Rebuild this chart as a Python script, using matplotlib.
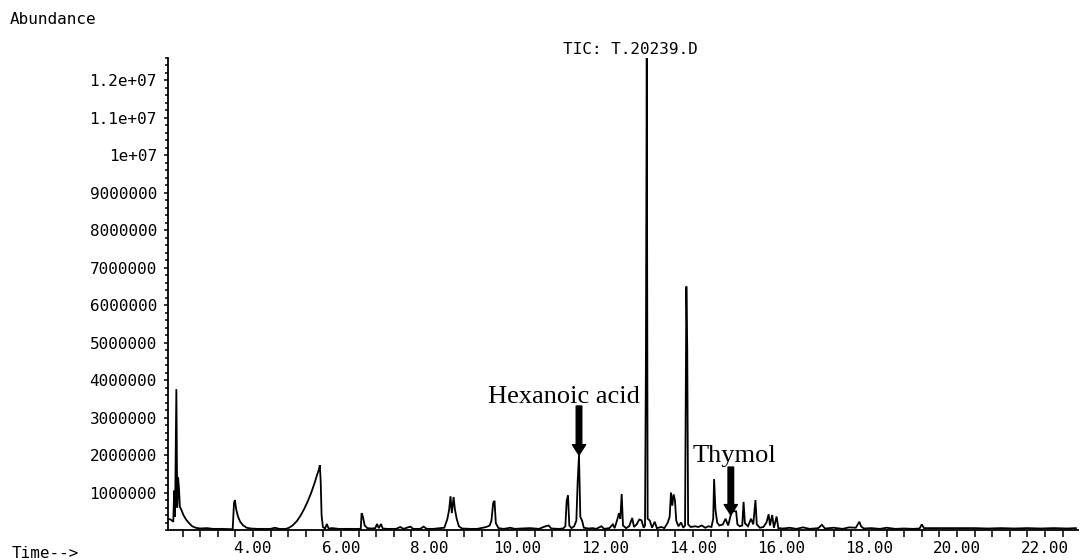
import numpy as np
import matplotlib.pyplot as plt
from matplotlib.ticker import FixedLocator, MultipleLocator

# TIC trace: retention time (min) and abundance (millions of counts)
rt_min = [
    2.07, 2.13, 2.19, 2.21, 2.23, 2.26, 2.28, 2.30, 2.32, 2.34, 2.37, 2.42, 2.48, 2.55, 2.62, 2.70, 2.80, 2.95,
    3.10, 3.30, 3.54, 3.57, 3.59, 3.62, 3.66, 3.71, 3.78, 3.86, 3.95, 4.10, 4.40, 4.50, 4.60, 4.75, 4.82, 4.90,
    5.00, 5.08, 5.16, 5.24, 5.32, 5.40, 5.46, 5.50, 5.52, 5.54, 5.56, 5.59, 5.64, 5.68, 5.72, 5.80, 5.95, 6.10,
    6.30, 6.45, 6.47, 6.50, 6.54, 6.60, 6.70, 6.78, 6.82, 6.86, 6.91, 6.95, 7.05, 7.25, 7.35, 7.42, 7.58, 7.64,
    7.80, 7.88, 7.95, 8.10, 8.25, 8.35, 8.42, 8.46, 8.49, 8.52, 8.56, 8.59, 8.63, 8.68, 8.75, 8.95, 9.10, 9.30,
    9.38, 9.42, 9.46, 9.49, 9.52, 9.58, 9.70, 9.85, 9.95, 10.10, 10.30, 10.50, 10.65, 10.72, 10.78, 10.95,
    11.05, 11.10, 11.13, 11.16, 11.19, 11.24, 11.30, 11.35, 11.38, 11.41, 11.44, 11.48, 11.52, 11.62, 11.72,
    11.80, 11.92, 11.98, 12.10, 12.18, 12.22, 12.28, 12.32, 12.35, 12.38, 12.41, 12.48, 12.55, 12.62, 12.66,
    12.72, 12.78, 12.83, 12.88, 12.91, 12.93, 12.95, 12.97, 13.02, 13.07, 13.13, 13.18, 13.28, 13.35, 13.42,
    13.47, 13.50, 13.53, 13.56, 13.59, 13.62, 13.67, 13.73, 13.78, 13.82, 13.85, 13.87, 13.89, 13.95, 14.05,
    14.12, 14.20, 14.28, 14.35, 14.42, 14.46, 14.48, 14.51, 14.55, 14.60, 14.68, 14.74, 14.80, 14.88, 14.98,
    15.01, 15.06, 15.12, 15.15, 15.18, 15.25, 15.32, 15.37, 15.42, 15.45, 15.52, 15.60, 15.67, 15.72, 15.75,
    15.80, 15.84, 15.90, 15.94, 16.05, 16.20, 16.35, 16.50, 16.65, 16.85, 16.93, 17.00, 17.20, 17.40, 17.55,
    17.70, 17.78, 17.82, 17.88, 18.05, 18.25, 18.40, 18.60, 18.80, 19.00, 19.15, 19.20, 19.25, 19.50, 19.80,
    20.10, 20.40, 20.70, 21.00, 21.30, 21.60, 21.90, 22.20, 22.50, 22.70,
]
abund_mil = [
    0.30, 0.28, 0.22, 1.05, 0.35, 3.76, 0.60, 1.40, 1.10, 0.62, 0.55, 0.40, 0.28, 0.18, 0.10, 0.06, 0.04, 0.05,
    0.03, 0.03, 0.02, 0.72, 0.80, 0.55, 0.36, 0.22, 0.12, 0.06, 0.04, 0.03, 0.03, 0.06, 0.03, 0.03, 0.06, 0.12,
    0.24, 0.38, 0.55, 0.75, 0.98, 1.25, 1.48, 1.62, 1.73, 1.30, 0.40, 0.08, 0.04, 0.16, 0.04, 0.05, 0.03, 0.03,
    0.03, 0.03, 0.45, 0.35, 0.12, 0.05, 0.04, 0.05, 0.16, 0.05, 0.16, 0.04, 0.03, 0.03, 0.08, 0.03, 0.09, 0.03,
    0.03, 0.09, 0.03, 0.03, 0.05, 0.06, 0.30, 0.55, 0.90, 0.45, 0.88, 0.55, 0.30, 0.10, 0.04, 0.03, 0.03, 0.08,
    0.12, 0.25, 0.72, 0.78, 0.18, 0.05, 0.03, 0.06, 0.03, 0.04, 0.05, 0.03, 0.10, 0.12, 0.04, 0.03,
    0.04, 0.10, 0.78, 0.92, 0.12, 0.05, 0.10, 0.25, 1.30, 2.00, 0.35, 0.25, 0.06, 0.04, 0.05,
    0.03, 0.10, 0.03, 0.05, 0.15, 0.05, 0.28, 0.45, 0.30, 0.96, 0.12, 0.05, 0.10, 0.32, 0.08,
    0.15, 0.28, 0.26, 0.06, 0.12, 4.40, 12.60, 0.30, 0.25, 0.06, 0.22, 0.05, 0.08, 0.05, 0.18,
    0.35, 1.00, 0.65, 0.95, 0.80, 0.25, 0.10, 0.20, 0.06, 0.12, 6.50, 4.85, 0.15, 0.08, 0.10,
    0.08, 0.12, 0.06, 0.10, 0.08, 0.30, 1.36, 0.55, 0.20, 0.12, 0.15, 0.30, 0.12, 0.50, 0.50,
    0.15, 0.10, 0.12, 0.75, 0.18, 0.10, 0.30, 0.15, 0.80, 0.15, 0.06, 0.08, 0.20, 0.42, 0.12,
    0.40, 0.06, 0.36, 0.05, 0.04, 0.06, 0.03, 0.07, 0.03, 0.05, 0.14, 0.04, 0.06, 0.03, 0.07,
    0.06, 0.22, 0.10, 0.04, 0.05, 0.03, 0.06, 0.03, 0.04, 0.03, 0.04, 0.15, 0.05, 0.05, 0.05,
    0.05, 0.05, 0.04, 0.05, 0.04, 0.05, 0.04, 0.05, 0.04, 0.05,
]

# axis ticks
x_major = [4, 6, 8, 10, 12, 14, 16, 18, 20, 22]
x_labels = ['4.00', '6.00', '8.00', '10.00', '12.00', '14.00', '16.00', '18.00', '20.00', '22.00']
y_major = [1e6, 2e6, 3e6, 4e6, 5e6, 6e6, 7e6, 8e6, 9e6, 1e7, 1.1e7, 1.2e7]
y_labels = ['1000000', '2000000', '3000000', '4000000', '5000000', '6000000',
            '7000000', '8000000', '9000000', '1e+07', '1.1e+07', '1.2e+07']

# labelled compounds: name, retention time, peak top, label anchor
compounds = ['Hexanoic acid', 'Thymol']
compound_rt = [11.41, 14.86]
arrow_tip = [2.00e6, 0.40e6]
arrow_tail = [3.31e6, 1.68e6]
label_x = [11.07, 14.95]
label_y = [3.40e6, 1.81e6]

mono = 'DejaVu Sans Mono'
fs = 11.5

fig = plt.figure(figsize=(10.81, 5.60), dpi=100)
ax = fig.add_axes([168 / 1081, 30 / 560, 910 / 1081, 472 / 560])

t = np.array(rt_min)
y = np.array(abund_mil) * 1e6
ax.plot(t, y, color='black', lw=1.3, solid_joinstyle='miter')

ax.set_xlim(2.07, 22.75)
ax.set_ylim(0, 12.6e6)

for side in ['top', 'right']:
    ax.spines[side].set_visible(False)
for side in ['left', 'bottom']:
    ax.spines[side].set_linewidth(1.3)

ax.xaxis.set_major_locator(FixedLocator(x_major))
ax.set_xticklabels(x_labels, fontfamily=mono, fontsize=fs)
ax.xaxis.set_minor_locator(MultipleLocator(0.4))
ax.yaxis.set_major_locator(FixedLocator(y_major))
ax.set_yticklabels(y_labels, fontfamily=mono, fontsize=fs)
ax.yaxis.set_minor_locator(MultipleLocator(2e5))

ax.tick_params(axis='x', which='both', direction='out', length=5, width=1.1, pad=3)
ax.tick_params(axis='y', which='major', direction='out', length=3, width=1.1, pad=5)
ax.tick_params(axis='y', which='minor', direction='out', length=2.5, width=1.1)

# peak annotations with solid arrows
for name, rt, tip, tail, lx, ly in zip(compounds, compound_rt, arrow_tip, arrow_tail, label_x, label_y):
    ax.annotate('', xy=(rt, tip), xytext=(rt, tail),
                arrowprops=dict(facecolor='black', edgecolor='black', width=4.0,
                                headwidth=9.5, headlength=7.5, shrink=0))
    ax.text(lx, ly, name, ha='center', va='baseline',
            fontfamily='Liberation Serif', fontsize=19)

fig.text(10 / 1081, 1 - 19 / 560, 'Abundance', fontfamily=mono, fontsize=fs,
         ha='left', va='center')
fig.text(12 / 1081, 1 - 554 / 560, 'Time-->', fontfamily=mono, fontsize=fs,
         ha='left', va='center')
fig.text(630 / 1081, 1 - 50 / 560, 'TIC: T.20239.D', fontfamily=mono, fontsize=fs,
         ha='center', va='center')

fig.savefig('out.png', dpi=100)
